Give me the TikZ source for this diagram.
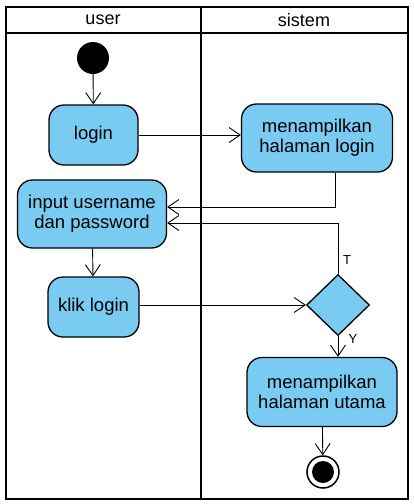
\documentclass[tikz,border=0pt]{standalone}
\usepackage{fontspec}
\setmainfont{Liberation Sans}
\usetikzlibrary{shapes.geometric,arrows.meta}
\definecolor{actblue}{RGB}{121,203,242}

\begin{document}
\begin{tikzpicture}[x=1pt,y=-1pt,
  act/.style={draw,line width=1.3pt,fill=actblue,rounded corners=15pt,
    align=center,font=\fontsize{18.5}{20}\selectfont,inner sep=0pt},
  flow/.style={line width=0.9pt,-{Straight Barb[length=11pt,width=15pt,line width=0.9pt]}},
  lane/.style={line width=2pt},
  guard/.style={font=\fontsize{13}{15}\selectfont}]
  \useasboundingbox (0,0) rectangle (414,504);
  \fill[white] (0,0) rectangle (414,504);
  % swimlanes
  \draw[lane] (6,7) rectangle (408,499);
  \draw[lane] (6,33) -- (408,33);
  \draw[lane] (201,7) -- (201,499);
  \node[font=\fontsize{18}{20}\selectfont] (user) at (103,20) {user};
  \node[font=\fontsize{18}{20}\selectfont] (sistem) at (304,20) {sistem};
  % activities
  \node[circle,fill=black,minimum size=32pt,inner sep=0pt] (start) at (93,58) {};
  \node[act,minimum width=89pt,minimum height=60pt] (login) at (93.5,135) {login};
  \node[act,minimum width=151pt,minimum height=68pt] (showlogin) at (317,138)
    {menampilkan\\halaman login};
  \node[act,minimum width=149pt,minimum height=68pt] (input) at (92,214)
    {input username\\dan password};
  \node[act,minimum width=91pt,minimum height=60pt] (klik) at (93.5,307) {klik login};
  \node[diamond,draw,line width=1.3pt,fill=actblue,minimum width=63pt,
    minimum height=61pt,inner sep=0pt] (cek) at (338,305) {};
  \node[act,minimum width=150pt,minimum height=69pt] (utama) at (322,392)
    {menampilkan\\halaman utama};
  \node[circle,draw,line width=1.5pt,fill=white,minimum size=32pt,inner sep=0pt] (end) at (323,472) {};
  \fill (end) circle (11pt);
  % flows
  \draw[flow] (start) -- (login);
  \draw[flow] (login.east) -- (login.east -| showlogin.west);
  \draw[flow] ([xshift=18pt]showlogin.south) |- ([yshift=7pt]input.east);
  \draw[flow] (cek.north) |- ([yshift=-9pt]input.east);
  \draw[flow] (input) -- (klik);
  \draw[flow] ([yshift=2pt]klik.east) -- ([yshift=2pt]klik.east -| cek.west);
  \draw[flow] (cek.south) -- (cek.south |- utama.north);
  \draw[flow] (utama) -- (end);
  \node[guard] (gt) at (347,260) {T};
  \node[guard] (gy) at (353,339) {Y};
\end{tikzpicture}
\end{document}
